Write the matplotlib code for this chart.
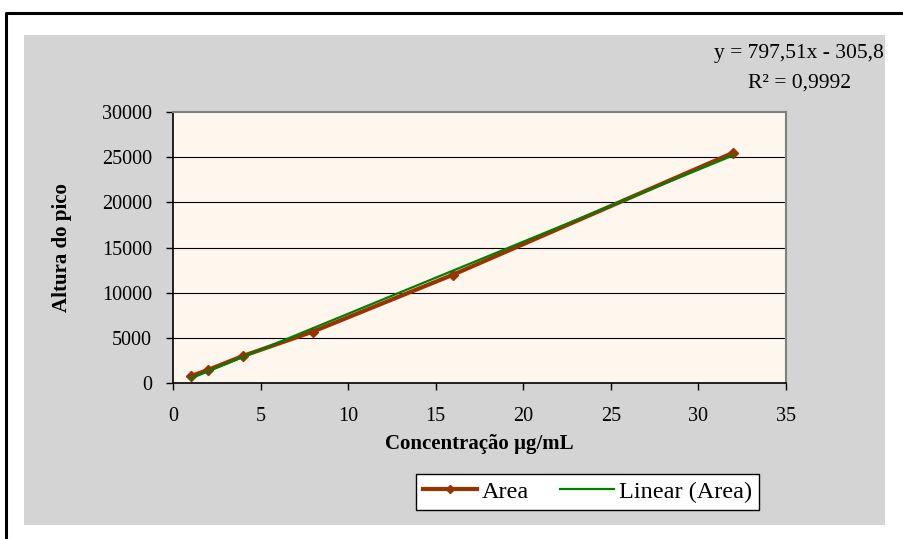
import numpy as np
import matplotlib.pyplot as plt
from matplotlib.patches import Rectangle
from matplotlib.lines import Line2D

plt.rcParams['font.family'] = ['Liberation Serif', 'DejaVu Serif']

# Curva de calibração
conc = [1, 2, 4, 8, 16, 32]
area = [750, 1450, 3000, 5700, 12000, 25500]

# Regressão linear (equação exibida no gráfico)
slope = 797.51
intercept = -305.8
r2 = 0.9992

yticks = [0, 5000, 10000, 15000, 20000, 25000, 30000]
xticks = [0, 5, 10, 15, 20, 25, 30, 35]

fig = plt.figure(figsize=(9.04, 5.39), dpi=100)
fig.patch.set_facecolor('white')

# Fundo cinza da área do gráfico e moldura externa
fig.patches.append(Rectangle((0.0265, 0.026), 0.9525, 0.909, transform=fig.transFigure,
                             facecolor='#d4d4d4', edgecolor='none', zorder=-2))
fig.lines.append(Line2D([0.0066, 0.0066, 1.0], [0.0, 0.976, 0.976], transform=fig.transFigure,
                        color='black', linewidth=2.2, zorder=-1))

ax = fig.add_axes([0.1914, 0.2894, 0.6781, 0.5028])
ax.set_zorder(2)
ax.set_facecolor('#fff6ee')

ax.plot(conc, area, color='#993300', linewidth=3, marker='D', markersize=5.5,
        label='Area', zorder=3)
xf = np.array([conc[0], conc[-1]])
ax.plot(xf, slope * xf + intercept, color='#008000', linewidth=1.6,
        label='Linear (Area)', zorder=4)

ax.set_xlim(0, 35)
ax.set_ylim(0, 30000)
ax.set_xticks(xticks)
ax.set_yticks(yticks)
ax.tick_params(labelsize=14.5, direction='out', length=5, width=1, colors='black')
ax.tick_params(axis='x', pad=12)
ax.tick_params(axis='y', pad=10)

for yv in yticks[1:-1]:
    ax.axhline(yv, color='black', linewidth=0.8, zorder=1)

ax.spines['left'].set_color('black')
ax.spines['bottom'].set_color('black')
ax.spines['left'].set_linewidth(1.2)
ax.spines['bottom'].set_linewidth(1.2)
ax.spines['top'].set_color('#808080')
ax.spines['right'].set_color('#808080')
ax.spines['top'].set_linewidth(1.5)
ax.spines['right'].set_linewidth(1.5)

ax.set_xlabel('Concentração µg/mL', fontsize=15, fontweight='bold', labelpad=6)
ax.set_ylabel('Altura do pico', fontsize=15, fontweight='bold', labelpad=22)

eq = f'y = {slope:.2f}x - {abs(intercept):.1f}'.replace('.', ',')
fig.text(0.884, 0.9, eq, ha='center', va='center', fontsize=15.5)
fig.text(0.884, 0.846, f'R² = {r2:.4f}'.replace('.', ','), ha='center', va='center',
         fontsize=15.5)

leg = fig.legend(loc='center', bbox_to_anchor=(0.65, 0.0872), ncol=2, fontsize=17.5,
                 frameon=True, fancybox=False, edgecolor='black', facecolor='white',
                 framealpha=1, handlelength=2.2, handletextpad=0.2, columnspacing=1.3,
                 borderpad=0.3, markerscale=0.8)
leg.get_frame().set_linewidth(1)

fig.savefig('out.png', dpi=100)
